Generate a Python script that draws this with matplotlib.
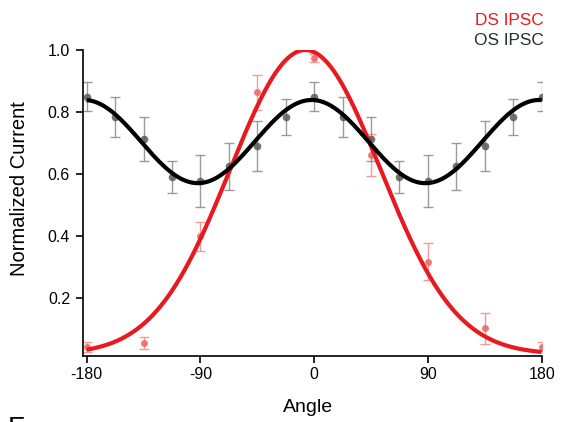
import numpy as np
import matplotlib
matplotlib.use("Agg")
import matplotlib.pyplot as plt

plt.rcParams['font.family'] = ['Liberation Sans', 'DejaVu Sans']

# ---- data ----
os_angles = [-180, -157.5, -135, -112.5, -90, -67.5, -45, -22.5, 0,
             22.5, 45, 67.5, 90, 112.5, 135, 157.5, 180]
os_values = [0.850, 0.784, 0.713, 0.592, 0.578, 0.625, 0.691, 0.784, 0.850,
             0.784, 0.713, 0.592, 0.578, 0.625, 0.691, 0.784, 0.850]
os_errors = [0.048, 0.065, 0.070, 0.052, 0.084, 0.075, 0.081, 0.058, 0.048,
             0.065, 0.070, 0.052, 0.084, 0.075, 0.081, 0.058, 0.048]

ds_angles = [-180, -135, -90, -45, 0, 45, 90, 135, 180]
ds_values = [0.044, 0.057, 0.400, 0.864, 0.974, 0.662, 0.318, 0.103, 0.044]
ds_errors = [0.016, 0.019, 0.047, 0.056, 0.012, 0.067, 0.059, 0.051, 0.015]

# fit parameters
ds_fit = dict(baseline=0.02, amplitude=0.98, center=-7.0, width=59.6)   # Gaussian
os_fit = dict(offset=0.705, amplitude=0.134, phase=-2.0)                 # cos(2θ)

x_ticks = [-180, -90, 0, 90, 180]
y_ticks = [0.2, 0.4, 0.6, 0.8, 1.0]
y_ticklabels = ["0.2", "0.4", "0.6", "0.8", "1.0"]

theta = np.linspace(-180, 180, 721)
ds_curve = ds_fit['baseline'] + ds_fit['amplitude'] * np.exp(
    -(theta - ds_fit['center']) ** 2 / (2 * ds_fit['width'] ** 2))
os_curve = os_fit['offset'] + os_fit['amplitude'] * np.cos(
    np.deg2rad(2 * (theta - os_fit['phase'])))

fig = plt.figure(figsize=(5.69, 4.22), dpi=100)
ax = fig.add_axes([0.145, 0.157, 0.807, 0.7245])

red = '#e8191f'
ax.errorbar(ds_angles, ds_values, yerr=ds_errors, fmt='o', ms=5,
            color='#f06a6a', mec='none', ecolor='#f29090', elinewidth=1,
            capsize=3.5, capthick=1, alpha=0.9, zorder=2)
ax.errorbar(os_angles, os_values, yerr=os_errors, fmt='o', ms=5.5,
            color='#5a5a5a', mec='none', ecolor='#8a8a8a', elinewidth=1,
            capsize=3.5, capthick=1, alpha=0.85, zorder=2)
ax.plot(theta, ds_curve, color=red, lw=3.0, zorder=3, solid_capstyle='butt')
ax.plot(theta, os_curve, color='black', lw=3.0, zorder=4, solid_capstyle='butt')

ax.set_xlim(-183.3, 180)
ax.set_ylim(0.015, 1.0)
ax.set_xticks(x_ticks)
ax.set_xticklabels([str(t) for t in x_ticks])
ax.set_yticks(y_ticks)
ax.set_yticklabels(y_ticklabels)
for s in ['top', 'right']:
    ax.spines[s].set_visible(False)
for s in ['left', 'bottom']:
    ax.spines[s].set_linewidth(1.2)
ax.tick_params(axis='both', direction='out', length=5, width=1.2,
               labelsize=11.5, colors='black')
ax.tick_params(axis='x', pad=3)
ax.tick_params(axis='y', pad=4)
ax.patch.set_visible(False)

fig.text(308 / 569, 1 - 411.7 / 422, 'Angle', ha='center', va='baseline',
         fontsize=14)
fig.text(19.5 / 569, 1 - 189 / 422, 'Normalized Current', ha='center',
         va='center', rotation=90, fontsize=14.5)

fig.text(544 / 569, 1 - 25 / 422, 'DS IPSC', ha='right', va='baseline',
         fontsize=12.4, color=red)
fig.text(544 / 569, 1 - 45 / 422, 'OS IPSC', ha='right', va='baseline',
         fontsize=12.4, color='#1f3326')

# partial panel label cut off at the bottom edge (as in the reference)
fig.text(8 / 569, 1 - 416 / 422, 'F', ha='left', va='top', fontsize=20)

fig.savefig('out.png', dpi=100)
